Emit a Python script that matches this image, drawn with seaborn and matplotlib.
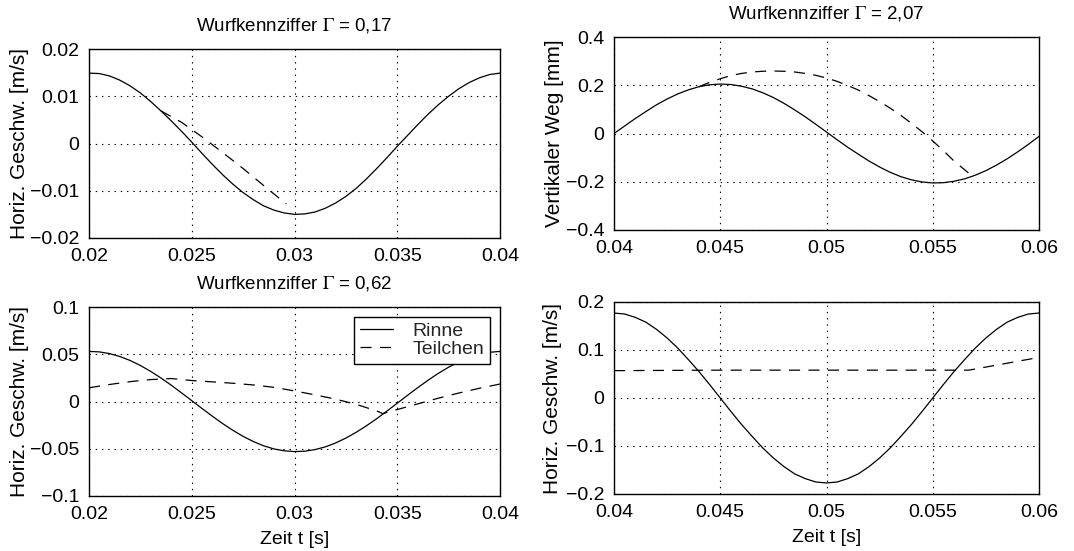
import numpy as np
import pandas as pd
import matplotlib
matplotlib.use("Agg")
import matplotlib.pyplot as plt
import seaborn as sns

# ---------------- data ----------------
# Panel 1 (top left): Gamma = 0,17, horizontal velocity [m/s]
t_a = [0.0200 + 0.0005 * i for i in range(41)]
rinne_a = [0.0149, 0.0148, 0.0143, 0.0134, 0.0122, 0.0107, 0.0089, 0.0069, 0.0048, 0.0026,
           0.0003, -0.0021, -0.0044, -0.0066, -0.0086, -0.0104, -0.0119, -0.0132, -0.0141, -0.0147,
           -0.0150, -0.0149, -0.0145, -0.0137, -0.0126, -0.0112, -0.0095, -0.0075, -0.0053, -0.0030,
           -0.0006, 0.0017, 0.0040, 0.0062, 0.0082, 0.0100, 0.0116, 0.0129, 0.0139, 0.0146, 0.0149]
tp_a = [0.0235, 0.0245, 0.0255, 0.0265, 0.0275, 0.0285, 0.0296]
teil_a = [0.0069, 0.0045, 0.0014, -0.0019, -0.0053, -0.0089, -0.0128]

# Panel 2 (top right): Gamma = 2,07, vertical displacement [mm]
t_b = [0.0400 + 0.0005 * i for i in range(41)]
rinne_b = [0.000, 0.031, 0.062, 0.091, 0.119, 0.143, 0.164, 0.181, 0.194, 0.202,
           0.205, 0.203, 0.196, 0.185, 0.169, 0.149, 0.125, 0.098, 0.069, 0.038,
           0.006, -0.026, -0.057, -0.086, -0.114, -0.139, -0.161, -0.179, -0.192, -0.201,
           -0.205, -0.204, -0.198, -0.188, -0.173, -0.154, -0.131, -0.105, -0.076, -0.045, -0.012]
tp_b = [0.0440, 0.0445, 0.0450, 0.0455, 0.0460, 0.0465, 0.0470, 0.0475, 0.0480, 0.0485,
        0.0490, 0.0495, 0.0500, 0.0505, 0.0510, 0.0515, 0.0520, 0.0525, 0.0530, 0.0535,
        0.0540, 0.0545, 0.0550, 0.0555, 0.0560, 0.0568]
teil_b = [0.194, 0.212, 0.227, 0.240, 0.249, 0.255, 0.258, 0.259, 0.258, 0.255,
          0.249, 0.241, 0.230, 0.216, 0.199, 0.180, 0.157, 0.132, 0.105, 0.075,
          0.042, 0.007, -0.031, -0.071, -0.114, -0.172]

# Panel 3 (bottom left): Gamma = 0,62, horizontal velocity [m/s]
t_c = [0.0200 + 0.0005 * i for i in range(41)]
rinne_c = [0.0530, 0.0525, 0.0507, 0.0476, 0.0434, 0.0381, 0.0319, 0.0249, 0.0173, 0.0092,
           0.0009, -0.0074, -0.0155, -0.0233, -0.0305, -0.0369, -0.0424, -0.0469, -0.0502, -0.0522,
           -0.0530, -0.0526, -0.0509, -0.0480, -0.0439, -0.0387, -0.0326, -0.0257, -0.0182, -0.0101,
           -0.0018, 0.0065, 0.0147, 0.0225, 0.0298, 0.0363, 0.0419, 0.0465, 0.0499, 0.0521, 0.0530]
tp_c = [0.0200, 0.0210, 0.0220, 0.0230, 0.0240, 0.0250, 0.0260, 0.0270, 0.0280, 0.0290,
        0.0300, 0.0310, 0.0320, 0.0330, 0.0340, 0.0343, 0.0350, 0.0360, 0.0370, 0.0380,
        0.0390, 0.0400]
teil_c = [0.0145, 0.0180, 0.0210, 0.0232, 0.0243, 0.0222, 0.0208, 0.0193, 0.0175, 0.0150,
          0.0112, 0.0070, 0.0025, -0.0030, -0.0100, -0.0128, -0.0085, -0.0025, 0.0035, 0.0090,
          0.0140, 0.0185]

# Panel 4 (bottom right): horizontal velocity [m/s]
t_d = [0.0400 + 0.0005 * i for i in range(41)]
rinne_d = [0.177, 0.175, 0.168, 0.158, 0.143, 0.125, 0.104, 0.080, 0.055, 0.028,
           0.000, -0.028, -0.055, -0.080, -0.104, -0.125, -0.143, -0.158, -0.168, -0.175,
           -0.177, -0.175, -0.168, -0.158, -0.143, -0.125, -0.104, -0.080, -0.055, -0.028,
           0.000, 0.028, 0.055, 0.080, 0.104, 0.125, 0.143, 0.158, 0.168, 0.175, 0.177]
tp_d = [0.0400, 0.0450, 0.0500, 0.0550, 0.0567, 0.0580, 0.0590, 0.0600]
teil_d = [0.057, 0.058, 0.058, 0.058, 0.058, 0.0685, 0.0765, 0.0845]

titles = ["Wurfkennziffer $\\Gamma$ = 0,17", "Wurfkennziffer $\\Gamma$ = 2,07",
          "Wurfkennziffer $\\Gamma$ = 0,62", ""]
ylabels = ["Horiz. Geschw. [m/s]", "Vertikaler Weg [mm]",
           "Horiz. Geschw. [m/s]", "Horiz. Geschw. [m/s]"]
xlabel = "Zeit t [s]"
legend_labels = ["Rinne", "Teilchen"]

xlims = [(0.02, 0.04), (0.04, 0.06), (0.02, 0.04), (0.04, 0.06)]
ylims = [(-0.02, 0.02), (-0.4, 0.4), (-0.1, 0.1), (-0.2, 0.2)]
xticks = [[0.02, 0.025, 0.03, 0.035, 0.04], [0.04, 0.045, 0.05, 0.055, 0.06],
          [0.02, 0.025, 0.03, 0.035, 0.04], [0.04, 0.045, 0.05, 0.055, 0.06]]
xticklabels = [["0.02", "0.025", "0.03", "0.035", "0.04"], ["0.04", "0.045", "0.05", "0.055", "0.06"],
               ["0.02", "0.025", "0.03", "0.035", "0.04"], ["0.04", "0.045", "0.05", "0.055", "0.06"]]
yticks = [[-0.02, -0.01, 0, 0.01, 0.02], [-0.4, -0.2, 0, 0.2, 0.4],
          [-0.1, -0.05, 0, 0.05, 0.1], [-0.2, -0.1, 0, 0.1, 0.2]]
yticklabels = [["\u22120.02", "\u22120.01", "0", "0.01", "0.02"],
               ["\u22120.4", "\u22120.2", "0", "0.2", "0.4"],
               ["\u22120.1", "\u22120.05", "0", "0.05", "0.1"],
               ["\u22120.2", "\u22120.1", "0", "0.1", "0.2"]]

# ---------------- style ----------------
sns.set_style("white")
plt.rcParams["font.family"] = ["Liberation Sans", "DejaVu Sans"]
plt.rcParams["mathtext.fontset"] = "stix"
plt.rcParams["lines.scale_dashes"] = False

W, H = 1074, 551
fig = plt.figure(figsize=(W / 100, H / 100), dpi=100)
fig.patch.set_facecolor("white")

# axes boxes in pixels: left, top, right, bottom
boxes = [(89, 49, 500, 238), (614, 37, 1039, 230), (89, 307, 500, 496), (614, 302, 1039, 494)]
ylabel_x = [20, 555, 20, 553]

series = [(t_a, rinne_a, tp_a, teil_a), (t_b, rinne_b, tp_b, teil_b),
          (t_c, rinne_c, tp_c, teil_c), (t_d, rinne_d, tp_d, teil_d)]

dash = (0, (8, 6))
for i, (l, t, r, b) in enumerate(boxes):
    ax = fig.add_axes([l / W, 1 - b / H, (r - l) / W, (b - t) / H])
    ts, vs, tp, vp = series[i]
    df_r = pd.DataFrame({"t": ts, "v": vs})
    df_p = pd.DataFrame({"t": tp, "v": vp})
    sns.lineplot(data=df_p, x="t", y="v", ax=ax, color="black", lw=0.9,
                 linestyle=dash, label=legend_labels[1] if i == 2 else None, legend=False, zorder=2)
    sns.lineplot(data=df_r, x="t", y="v", ax=ax, color="black", lw=0.9,
                 label=legend_labels[0] if i == 2 else None, legend=False, zorder=3)
    ax.set_xlim(*xlims[i])
    ax.set_ylim(*ylims[i])
    ax.set_xticks(xticks[i])
    ax.set_xticklabels(xticklabels[i])
    ax.set_yticks(yticks[i])
    ax.set_yticklabels(yticklabels[i])
    ax.tick_params(length=0, labelsize=14, pad=7, colors="black")
    ax.grid(True, color="black", linestyle=(0, (1, 3.5)), lw=0.8)
    for sp in ax.spines.values():
        sp.set_visible(True)
        sp.set_color("black")
        sp.set_linewidth(1.0)
    ax.set_ylabel(ylabels[i], fontsize=15, color="black", va="center")
    ax.yaxis.set_label_coords((ylabel_x[i] - l) / (r - l), 0.5)
    if i >= 2:
        ax.set_xlabel(xlabel, fontsize=14, labelpad=6, color="black")
    else:
        ax.set_xlabel("")
    if titles[i]:
        ax.set_title(titles[i], fontsize=13.5, pad=13, color="black")
    if i == 2:
        h, lab = ax.get_legend_handles_labels()
        order = [lab.index(legend_labels[0]), lab.index(legend_labels[1])]
        leg = ax.legend([h[k] for k in order], [lab[k] for k in order], loc="upper right",
                        fontsize=14, frameon=True, fancybox=False, framealpha=1,
                        edgecolor="black", handlelength=1.7, handletextpad=1.0,
                        labelspacing=0.02, borderpad=0.3, borderaxespad=0.5)
        leg.get_frame().set_linewidth(1.0)
        for txt in leg.get_texts():
            txt.set_ha("left")

fig.savefig("out.png", dpi=100, facecolor="white")
